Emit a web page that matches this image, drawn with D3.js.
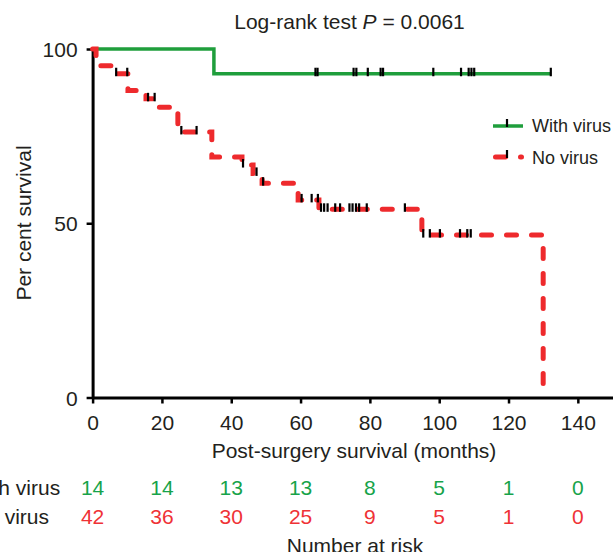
<!DOCTYPE html>
<html>
<head>
<meta charset="utf-8">
<script src="https://cdn.jsdelivr.net/npm/d3@7"></script>
<style>
  html, body { margin: 0; padding: 0; background: #fff; }
  svg { display: block; font-family: "Liberation Sans", Arial, Helvetica, sans-serif; }
</style>
</head>
<body>
<svg id="chart" width="613" height="552"></svg>
<script>
// ---- data ----
const xTicks = [0, 20, 40, 60, 80, 100, 120, 140];
const yTicks = [0, 50, 100];

const greenTimes = [0, 35, 132.2];
const greenSurv = [100, 92.9, 92.9];
const greenCensor = [64.3, 64.9, 75.3, 76.1, 79.4, 83.1, 83.8, 98.3, 106.3, 108.5, 109.3, 110.1, 132.2];

const redTimes = [0, 1.0, 6.6, 10.2, 15.4, 18.3, 24.6, 34.4, 43.1, 46.3, 48.9, 59.3, 65.3, 95.0, 130.0];
const redSurv = [100, 95.2, 92.9, 88.1, 85.7, 83.3, 76.2, 69.0, 66.7, 64.3, 61.5, 56.7, 54.0, 46.6, 0];
const redCensor = [6.8, 10.0, 16.0, 17.9, 25.6, 30.0, 43.4, 47.3, 49.2, 60.3, 63.2,
  65.0, 65.9, 66.8, 67.8, 70.0, 71.4, 74.1, 75.0, 76.0, 76.9, 79.1,
  90.1, 95.4, 97.3, 100.2, 106.0, 108.1, 109.1];

const riskGroups = ["With virus", "No virus"];
const riskWith = [14, 14, 13, 13, 8, 5, 1, 0];
const riskNo = [42, 36, 30, 25, 9, 5, 1, 0];

// ---- styles ----
const GREEN = "#1f9e3c";
const GREEN_TXT = "#17a34a";
const RED = "#ee2a2d";
const RED_TXT = "#ef3236";
const INK = "#231f20";

const svg = d3.select("#chart");
const x = d3.scaleLinear().domain([0, 150]).range([92.6, 612.5]);
const y = d3.scaleLinear().domain([0, 100]).range([397.5, 49]);

// axes
const xAxis = d3.axisBottom(x).tickValues(xTicks).tickSize(6).tickSizeOuter(0).tickPadding(11.5);
const yAxis = d3.axisLeft(y).tickValues(yTicks).tickSize(6).tickSizeOuter(0).tickPadding(9);

const gx = svg.append("g").attr("transform", `translate(0,${y(0)})`).call(xAxis);
const gy = svg.append("g").attr("transform", `translate(${x(0)},0)`).call(yAxis);
[gx, gy].forEach(g => {
  g.select(".domain").attr("stroke", "#000").attr("stroke-width", 3);
  g.selectAll(".tick line").attr("stroke", "#000").attr("stroke-width", 2.5);
  g.selectAll(".tick text").attr("fill", INK).style("font-size", "21px")
    .style("font-family", '"Liberation Sans", Arial, sans-serif');
});
gy.selectAll(".tick text").attr("dy", "0.36em");

// step function helper
function levelAt(times, surv, t) {
  let v = surv[0];
  for (let i = 0; i < times.length; i++) if (times[i] <= t) v = surv[i];
  return v;
}
const stepLine = d3.line().x(d => x(d[0])).y(d => y(d[1])).curve(d3.curveStepAfter);

// green curve
const greenPts = greenTimes.map((t, i) => [t, greenSurv[i]]);
svg.append("path").attr("d", stepLine(greenPts))
  .attr("fill", "none").attr("stroke", GREEN).attr("stroke-width", 3.5);

// red curve
const redPts = redTimes.map((t, i) => [t, redSurv[i]]);
svg.append("path").attr("d", stepLine(redPts))
  .attr("fill", "none").attr("stroke", RED).attr("stroke-width", 5)
  .attr("stroke-dasharray", "10,15").attr("stroke-linecap", "round");

// censor ticks
function censor(times, levels, list) {
  svg.append("g").selectAll("line").data(list).join("line")
    .attr("x1", d => x(d)).attr("x2", d => x(d))
    .attr("y1", d => y(levelAt(times, levels, d)) - 6)
    .attr("y2", d => y(levelAt(times, levels, d)) + 2.5)
    .attr("stroke", "#000").attr("stroke-width", 2.2);
}
censor(greenTimes, greenSurv, greenCensor);
censor(redTimes, redSurv, redCensor);

// title
const title = svg.append("text").attr("x", 349.5).attr("y", 29).attr("text-anchor", "middle")
  .attr("fill", INK).style("font-size", "21px");
title.append("tspan").text("Log-rank test ");
title.append("tspan").attr("font-style", "italic").text("P");
title.append("tspan").text(" = 0.0061");

// axis titles
svg.append("text").attr("x", 354).attr("y", 458).attr("text-anchor", "middle")
  .attr("fill", INK).style("font-size", "21px").text("Post-surgery survival (months)");
svg.append("text").attr("transform", "translate(31,223) rotate(-90)").attr("text-anchor", "middle")
  .attr("fill", INK).style("font-size", "21px").text("Per cent survival");

// legend
const lg = svg.append("g");
lg.append("line").attr("x1", 493).attr("x2", 523).attr("y1", 126).attr("y2", 126)
  .attr("stroke", GREEN).attr("stroke-width", 3.5);
lg.append("line").attr("x1", 507).attr("x2", 507).attr("y1", 119).attr("y2", 127)
  .attr("stroke", "#000").attr("stroke-width", 2.2);
lg.append("text").attr("x", 532).attr("y", 132).attr("fill", INK).style("font-size", "18px").text(riskGroups[0]);
lg.append("path").attr("d", "M495.5,157H521.5").attr("fill", "none")
  .attr("stroke", RED).attr("stroke-width", 5).attr("stroke-dasharray", "10,15").attr("stroke-linecap", "round");
lg.append("line").attr("x1", 507).attr("x2", 507).attr("y1", 150).attr("y2", 158)
  .attr("stroke", "#000").attr("stroke-width", 2.2);
lg.append("text").attr("x", 532).attr("y", 164).attr("fill", INK).style("font-size", "18px").text(riskGroups[1]);

// number at risk table
const rt = svg.append("g").style("font-size", "21px");
rt.append("text").attr("x", -32).attr("y", 495).attr("fill", INK).text(riskGroups[0]);
rt.append("text").attr("x", -28).attr("y", 524).attr("fill", INK).text(riskGroups[1]);
rt.selectAll("text.rw").data(riskWith).join("text").attr("class", "rw")
  .attr("x", (d, i) => x(xTicks[i])).attr("y", 495).attr("text-anchor", "middle")
  .attr("fill", GREEN_TXT).text(d => d);
rt.selectAll("text.rn").data(riskNo).join("text").attr("class", "rn")
  .attr("x", (d, i) => x(xTicks[i])).attr("y", 524).attr("text-anchor", "middle")
  .attr("fill", RED_TXT).text(d => d);
svg.append("text").attr("x", 355).attr("y", 553).attr("text-anchor", "middle")
  .attr("fill", INK).style("font-size", "21px").text("Number at risk");
</script>
</body>
</html>
